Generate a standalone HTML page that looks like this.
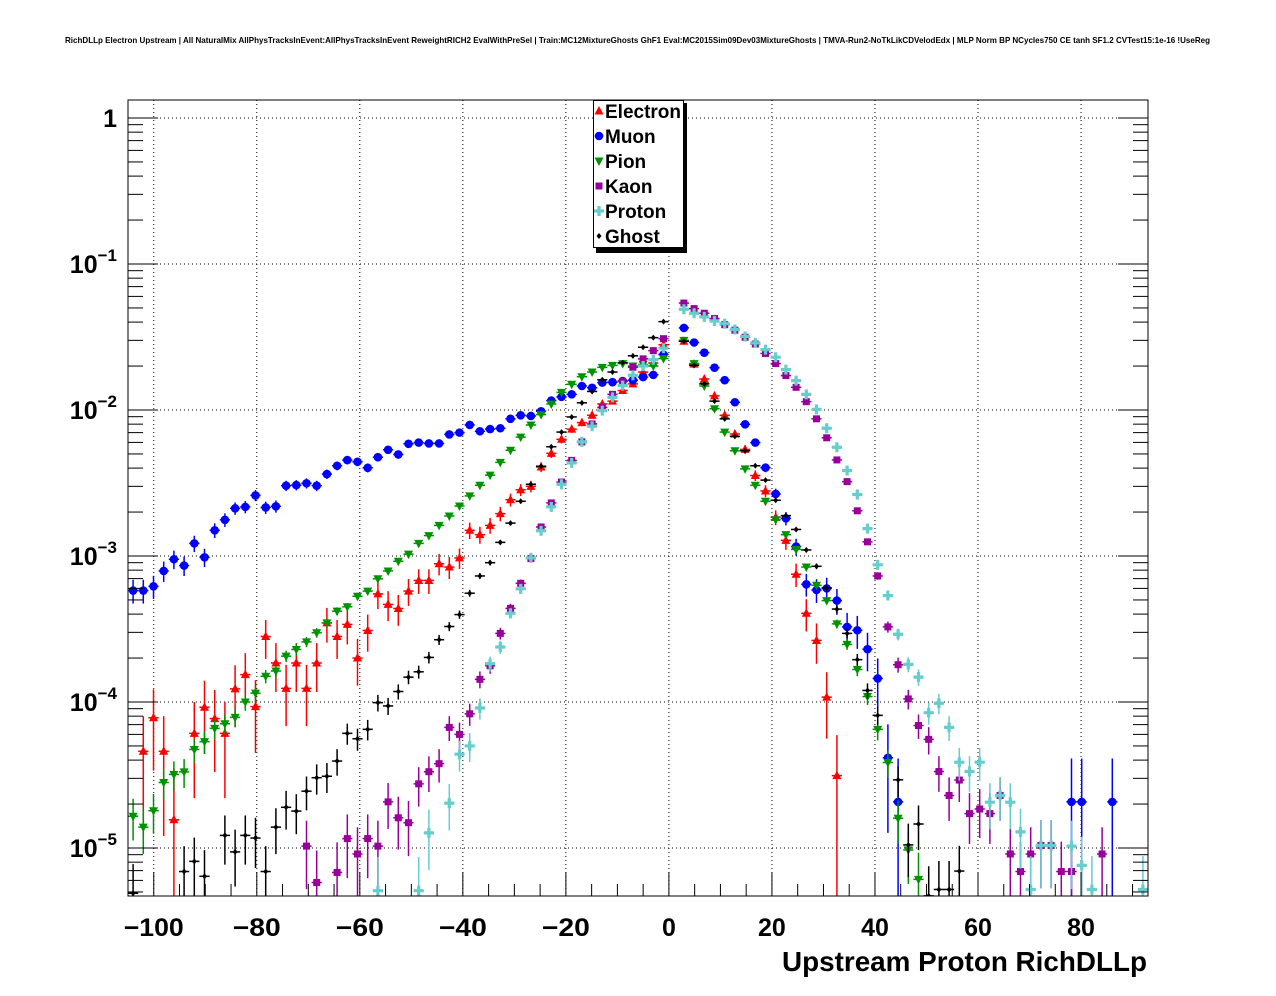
<!DOCTYPE html>
<html><head><meta charset="utf-8"><style>
html,body{margin:0;padding:0;background:#fff;width:1276px;height:996px;overflow:hidden;}
svg{display:block;font-family:"Liberation Sans",Arial,sans-serif;}
</style></head><body>
<svg id="chart" width="1276" height="996" viewBox="0 0 1276 996" xmlns="http://www.w3.org/2000/svg">
<rect x="0" y="0" width="1276" height="996" fill="#fff"/>
<text x="65" y="43" font-size="8.5" font-weight="bold" textLength="1145" lengthAdjust="spacingAndGlyphs">RichDLLp Electron Upstream | All NaturalMix AllPhysTracksInEvent:AllPhysTracksInEvent ReweightRICH2 EvalWithPreSel | Train:MC12MixtureGhosts GhF1 Eval:MC2015Sim09Dev03MixtureGhosts | TMVA-Run2-NoTkLikCDVelodEdx | MLP Norm BP NCycles750 CE tanh SF1.2 CVTest15:1e-16 !UseReg</text>
<defs><clipPath id="plotclip"><rect x="128" y="100" width="1020" height="796"/></clipPath></defs>
<g id="grid"></g>
<g id="series" clip-path="url(#plotclip)"></g>
<g id="axes"></g>
<g id="legend"></g>
<text x="1147" y="971" font-size="27.5" font-weight="bold" text-anchor="end" textLength="365" lengthAdjust="spacingAndGlyphs">Upstream Proton RichDLLp</text>
</svg>
<script>
const xTicks = [-100,-80,-60,-40,-20,0,20,40,60,80];
const yTickExps = [0,-1,-2,-3,-4,-5];
const seriesNames = ["Electron","Muon","Pion","Kaon","Proton","Ghost"];
const _ = null;
const electron = [_,4.6e-5,7.8e-5,4.6e-5,1.56e-5,_,6.1e-5,9.2e-5,7.7e-5,6.1e-5,
1.23e-4,1.54e-4,9.3e-5,2.81e-4,1.85e-4,1.24e-4,1.85e-4,1.24e-4,1.85e-4,3.48e-4,
2.81e-4,3.4e-4,2.0e-4,3.09e-4,5.5e-4,4.66e-4,4.37e-4,5.75e-4,6.8e-4,6.8e-4,
8.85e-4,8.4e-4,9.7e-4,1.5e-3,1.4e-3,1.62e-3,1.95e-3,2.43e-3,2.84e-3,3.0e-3,
4.07e-3,5.05e-3,6.3e-3,7.4e-3,8.2e-3,9.2e-3,1.1e-2,1.15e-2,1.36e-2,1.51e-2,
1.82e-2,2.1e-2,2.8e-2,_,2.96e-2,2.06e-2,1.63e-2,1.25e-2,9.2e-3,6.85e-3,
5.37e-3,3.56e-3,2.79e-3,1.84e-3,1.28e-3,7.5e-4,4.05e-4,2.64e-4,1.08e-4,3.13e-5,
_,_,_,_,_,_,_,_,_,_,_,_,_,_,_,_,_,_,_,_,_,_,_,_,_,_,_,_,_,_];
const muon = [5.8e-4,5.8e-4,6.2e-4,7.9e-4,9.5e-4,8.6e-4,1.22e-3,9.8e-4,1.5e-3,1.77e-3,
2.12e-3,2.17e-3,2.6e-3,2.15e-3,2.19e-3,3.03e-3,3.06e-3,3.15e-3,3.03e-3,3.64e-3,
4.15e-3,4.54e-3,4.42e-3,4.02e-3,4.75e-3,5.34e-3,4.96e-3,5.87e-3,5.98e-3,5.9e-3,
5.9e-3,6.8e-3,7.0e-3,7.9e-3,7.15e-3,7.4e-3,7.5e-3,8.7e-3,9.2e-3,9.1e-3,
9.8e-3,1.16e-2,1.23e-2,1.28e-2,1.46e-2,1.42e-2,1.54e-2,1.55e-2,1.58e-2,1.6e-2,
1.68e-2,1.74e-2,2.4e-2,_,3.65e-2,2.9e-2,2.47e-2,1.95e-2,1.6e-2,1.13e-2,
7.98e-3,5.98e-3,4.03e-3,2.66e-3,1.81e-3,1.16e-3,6.4e-4,5.85e-4,6.0e-4,4.95e-4,
3.27e-4,3.1e-4,2.3e-4,1.45e-4,4.15e-5,2.07e-5,_,_,_,_,
_,_,_,_,_,_,_,_,_,_,_,_,2.07e-5,2.07e-5,_,_,2.07e-5,_,_,_];
const pion = [1.65e-5,1.39e-5,1.8e-5,2.81e-5,3.19e-5,3.32e-5,4.73e-5,5.35e-5,6.6e-5,7.1e-5,
7.85e-5,1.0e-4,1.15e-4,1.5e-4,1.63e-4,2.06e-4,2.29e-4,2.58e-4,2.98e-4,3.48e-4,
4.19e-4,4.49e-4,5.3e-4,5.75e-4,6.98e-4,7.9e-4,9.2e-4,1.03e-3,1.22e-3,1.38e-3,
1.62e-3,1.88e-3,2.2e-3,2.58e-3,3.05e-3,3.58e-3,4.38e-3,5.3e-3,6.52e-3,7.9e-3,
9.3e-3,1.1e-2,1.32e-2,1.5e-2,1.69e-2,1.82e-2,1.96e-2,2.02e-2,2.08e-2,2.0e-2,
2.05e-2,2.0e-2,2.25e-2,_,3.0e-2,2.08e-2,1.46e-2,1.02e-2,7.06e-3,5.26e-3,
3.95e-3,3.05e-3,2.37e-3,1.77e-3,1.4e-3,1.11e-3,8.4e-4,6.3e-4,4.95e-4,3.43e-4,
2.48e-4,1.67e-4,1.09e-4,6.5e-5,3.85e-5,1.6e-5,9.7e-6,6.1e-6,_,_,
_,_,_,_,_,_,_,_,_,_,_,_,_,_,_,_,_,_,_,_];
const kaon = [_,_,_,_,_,_,_,_,_,_,
_,_,_,_,_,_,_,1.03e-5,5.8e-6,_,
6.8e-6,1.16e-5,9.1e-6,1.16e-5,1.03e-5,2.07e-5,1.61e-5,1.49e-5,2.75e-5,3.33e-5,
3.78e-5,6.7e-5,6.0e-5,8.3e-5,1.43e-4,1.77e-4,2.95e-4,4.38e-4,6.5e-4,9.6e-4,
1.58e-3,2.31e-3,3.21e-3,4.52e-3,6.05e-3,8.03e-3,1.04e-2,1.28e-2,1.57e-2,1.96e-2,
2.24e-2,2.55e-2,3.08e-2,_,5.4e-2,4.95e-2,4.6e-2,4.23e-2,3.84e-2,3.52e-2,
3.15e-2,2.83e-2,2.44e-2,2.08e-2,1.72e-2,1.43e-2,1.14e-2,8.7e-3,6.45e-3,4.55e-3,
3.23e-3,2.04e-3,1.25e-3,7.3e-4,3.27e-4,1.8e-4,1.05e-4,6.9e-5,5.55e-5,3.34e-5,
2.29e-5,2.92e-5,1.72e-5,1.85e-5,1.72e-5,2.29e-5,9.1e-6,6.9e-6,9.1e-6,1.04e-5,
1.04e-5,6.9e-6,6.9e-6,_,_,9.1e-6,_,_,_,_];
const proton = [_,_,_,_,_,_,_,_,_,_,
_,_,_,_,_,_,_,_,_,_,
_,_,_,_,5.1e-6,_,_,_,5.1e-6,1.27e-5,
_,2.03e-5,4.39e-5,5.0e-5,9.1e-5,1.83e-4,2.38e-4,4.05e-4,5.96e-4,9.7e-4,
1.49e-3,2.17e-3,3.1e-3,4.34e-3,6.05e-3,7.74e-3,9.9e-3,1.22e-2,1.47e-2,1.73e-2,
2.0e-2,2.21e-2,2.65e-2,_,4.9e-2,4.6e-2,4.34e-2,4.07e-2,3.9e-2,3.56e-2,
3.19e-2,2.88e-2,2.59e-2,2.3e-2,1.89e-2,1.59e-2,1.28e-2,1.01e-2,7.5e-3,5.56e-3,
3.85e-3,2.64e-3,1.54e-3,8.7e-4,5.36e-4,2.91e-4,1.81e-4,1.48e-4,8.45e-5,9.8e-5,
6.7e-5,3.87e-5,3.34e-5,3.87e-5,2.06e-5,2.29e-5,2.06e-5,1.29e-5,5.2e-6,1.04e-5,
1.04e-5,_,1.03e-5,7.6e-6,5.2e-6,_,_,_,_,5.2e-6];
const ghost = [4.9e-6,_,_,_,_,6.9e-6,8.1e-6,6.4e-6,_,1.22e-5,
9.4e-6,1.22e-5,1.17e-5,6.9e-6,1.39e-5,1.9e-5,1.79e-5,2.45e-5,3.03e-5,3.1e-5,
3.94e-5,6.1e-5,5.6e-5,6.5e-5,9.9e-5,9.4e-5,1.18e-4,1.48e-4,1.61e-4,2.02e-4,
2.67e-4,3.29e-4,3.97e-4,5.56e-4,7.3e-4,9.0e-4,1.24e-3,1.68e-3,2.37e-3,3.1e-3,
4.12e-3,5.6e-3,7.06e-3,8.96e-3,1.12e-2,1.34e-2,1.61e-2,1.82e-2,2.11e-2,2.35e-2,
2.69e-2,3.13e-2,4.03e-2,_,2.96e-2,2.02e-2,1.51e-2,1.15e-2,8.7e-3,6.6e-3,
5.26e-3,4.15e-3,3.31e-3,2.41e-3,1.89e-3,1.52e-3,1.1e-3,8.5e-4,6.05e-4,4.33e-4,
2.95e-4,1.95e-4,1.2e-4,8.1e-5,_,2.93e-5,1.05e-5,1.46e-5,4.7e-6,5.2e-6,
5.2e-6,6.95e-6,_,_,_,_,_,_,_,_,_,_,_,_,_,_,_,_,_,_];
const seriesEffN = [4e4,5e4,6e5,4e5,4e5,6e5];

const NS="http://www.w3.org/2000/svg";
const X0=128,X1=1148,Y0=100,Y1=896, XMIN=-105, XMAX=93, NB=100;
const BW=(XMAX-XMIN)/NB;
function xS(v){return X0+(v-XMIN)/(XMAX-XMIN)*(X1-X0);}
function yS(v){return 118-146*Math.log10(v);}
function mk(tag,attrs,parent){const e=document.createElementNS(NS,tag);for(const k in attrs)e.setAttribute(k,attrs[k]);parent.appendChild(e);return e;}
const grid=document.getElementById('grid'),axes=document.getElementById('axes'),ser=document.getElementById('series'),leg=document.getElementById('legend');

xTicks.forEach(t=>{const l=mk('line',{x1:xS(t),x2:xS(t),y1:Y0,y2:Y1,stroke:'#000','stroke-width':1,'stroke-dasharray':'1,3'},grid);

});
yTickExps.forEach(e=>{const y=yS(Math.pow(10,e));const l=mk('line',{x1:X0,x2:X1,y1:y,y2:y,stroke:'#000','stroke-width':1,'stroke-dasharray':'1,3'},grid);

});

const fr=mk('rect',{x:X0,y:Y0,width:X1-X0,height:Y1-Y0,fill:'none',stroke:'#000','stroke-width':1},axes);



for(let v=-105;v<=93;v+=5){const x=xS(v);const major=(v%20===0);const len=major?24:12;
 const l=mk('line',{x1:x,x2:x,y1:Y1,y2:Y1-len,stroke:'#000','stroke-width':1},axes);
 
 }
xTicks.forEach(t=>{const tx=mk('text',{x:xS(t),y:936,'font-size':25,'font-weight':'bold','text-anchor':'middle'},axes);
 tx.textContent=(t<0?'\u2212'+(-t):String(t));
 if(t<0){tx.setAttribute('textLength', t<=-100?60:48);tx.setAttribute('lengthAdjust','spacingAndGlyphs');}
 
 });

for(let e=-6;e<=0;e++){for(let m=1;m<=9;m++){const v=m*Math.pow(10,e);const y=yS(v);if(y<Y0||y>Y1)continue;const len=(m===1)?30:15;
 const a=mk('line',{x1:X0,x2:X0+len,y1:y,y2:y,stroke:'#000','stroke-width':1},axes);
 
 
 const b=mk('line',{x1:X1,x2:X1-len,y1:y,y2:y,stroke:'#000','stroke-width':1},axes);
 
 }}
yTickExps.forEach(e=>{const y=yS(Math.pow(10,e));
 const tx=mk('text',{x:117,y:y+9,'font-size':25,'font-weight':'bold','text-anchor':'end'},axes);
 if(e===0){tx.textContent='1';}
 else{const t1=document.createElementNS(NS,'tspan');t1.textContent='10';tx.appendChild(t1);
  const t2=document.createElementNS(NS,'tspan');t2.setAttribute('font-size','17');t2.setAttribute('dy','-12');t2.textContent='\u2212'+(-e);tx.appendChild(t2);}
 
 });

const colors=['#ff0000','#0000ff','#009300','#990099','#66cccc','#000000'];
function marker(type,x,y,c,g){
 let e;
 if(type===0){e=mk('polygon',{points:`${x},${y-5} ${x-4.5},${y+3.5} ${x+4.5},${y+3.5}`,fill:c},g);}
 else if(type===1){e=mk('circle',{cx:x,cy:y,r:4.3,fill:c},g);}
 else if(type===2){e=mk('polygon',{points:`${x-4.5},${y-3.5} ${x+4.5},${y-3.5} ${x},${y+5}`,fill:c},g);}
 else if(type===3){e=mk('rect',{x:x-3.5,y:y-3.5,width:7,height:7,fill:c},g);}
 else if(type===4){e=mk('path',{d:`M${x-1.6},${y-5}h3.2v3.4h3.4v3.2h-3.4v3.4h-3.2v-3.4h-3.4v-3.2h3.4z`,fill:c},g);}
 else {e=mk('polygon',{points:`${x},${y-3} ${x+2.5},${y} ${x},${y+3} ${x-2.5},${y}`,fill:c},g);}
 return e;
}
const allSeries=[electron,muon,pion,kaon,proton,ghost];
allSeries.forEach((arr,si)=>{
 const g=mk('g',{},ser);
 
 
 const c=colors[si];
 arr.forEach((v,k)=>{
  if(v===null||v<=0)return;
  const cx=XMIN+BW*(k+0.5);
  const x=xS(cx),y=yS(v);
  const rel=1/Math.sqrt(v*seriesEffN[si]);
  const hi=yS(v*(1+rel)), lo=(rel>=1)?Y1:Math.min(Y1,yS(v*(1-rel)));
  const eb=mk('line',{x1:x,x2:x,y1:hi,y2:lo,stroke:c,'stroke-width':1.5},g);
  
  
  const hb=mk('line',{x1:xS(cx-BW/2),x2:xS(cx+BW/2),y1:y,y2:y,stroke:c,'stroke-width':1.5},g);
  
  
  const m=marker(si,x,y,c,g);
  
  
 });
});

const lb=mk('rect',{x:596,y:103,width:91,height:150,fill:'#000'},leg);


const lr=mk('rect',{x:593.5,y:100.5,width:90,height:147,fill:'#fff',stroke:'#000','stroke-width':1},leg);


seriesNames.forEach((n,i)=>{
 const y=111+25*i;
 const g=mk('g',{},leg);
 
 
 marker(i,599,y,colors[i],g);
 const t=mk('text',{x:605,y:y+7,'font-size':19,'font-weight':'bold'},g);
 t.textContent=n;
});
</script>
</body></html>
